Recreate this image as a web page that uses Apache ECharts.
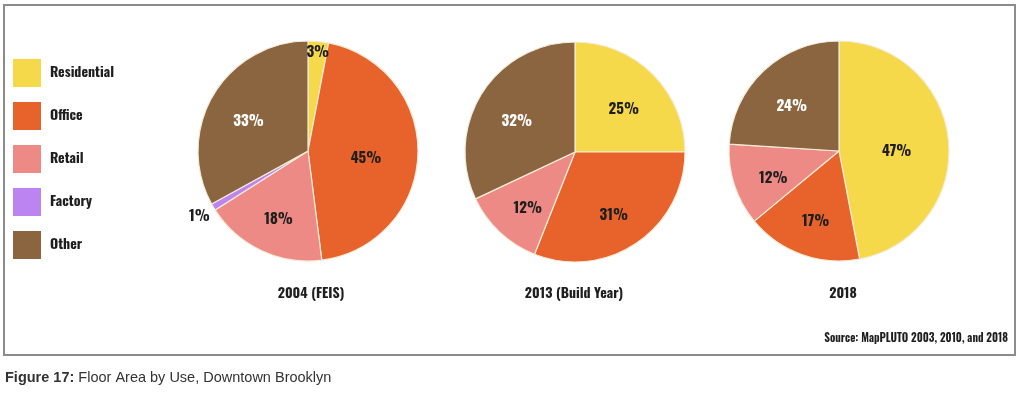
<!DOCTYPE html>
<html>
<head>
<meta charset="utf-8">
<script src="https://cdn.jsdelivr.net/npm/echarts@6/dist/echarts.min.js"></script>
<style>
html,body{margin:0;padding:0;background:#fff;}
#chart{width:1024px;height:393px;}
</style>
</head>
<body>
<div id="chart"></div>
<script>
// ---- data ----
const categories = ['Residential', 'Office', 'Retail', 'Factory', 'Other'];
const pieTitles = ['2004 (FEIS)', '2013 (Build Year)', '2018'];
const share2004 = [3, 45, 18, 1, 33];
const share2013 = [25, 31, 12, 0, 32];
const share2018 = [47, 17, 12, 0, 24];
const sourceText = 'Source: MapPLUTO 2003, 2010, and 2018';
const captionBold = 'Figure 17:';
const captionText = ' Floor Area by Use, Downtown Brooklyn';

// ---- styles ----
const colors = {
  Residential: '#F6D94B',
  Office: '#E8632B',
  Retail: '#EE8A85',
  Factory: '#BC84F0',
  Other: '#8A653F'
};
const NARROW = 'Oswald, "Roboto Condensed", "DejaVu Sans Condensed", sans-serif';
const R = 110;
const centers = [[308, 151], [575, 152], [839, 151]];
const titleX = [311, 574, 843];
const allShares = [share2004, share2013, share2018];

function buildData(values) {
  const out = [];
  values.forEach((v, i) => {
    if (v > 0) out.push({ name: categories[i], value: v, itemStyle: { color: colors[categories[i]] } });
  });
  return out;
}

function richFor(padTop) {
  return {
    d: { color: '#1e1e1e', fontFamily: NARROW, fontWeight: 'bold', fontSize: 15, padding: [padTop, 0, 0, 0] },
    w: { color: '#ffffff', fontFamily: NARROW, fontWeight: 'bold', fontSize: 15, padding: [padTop, 0, 0, 0] }
  };
}
function fmt(p) {
  return (p.name === 'Other' ? '{w|' : '{d|') + p.value + '%}';
}

// transparent overlay ring whose inside labels sit at the ring's mid radius
function labelRing(k, data, innerFrac, padTop, test) {
  return {
    type: 'pie',
    center: centers[k],
    radius: [R * innerFrac, R],
    startAngle: 90,
    clockwise: true,
    avoidLabelOverlap: false,
    silent: true,
    animation: false,
    itemStyle: { color: 'rgba(0,0,0,0)', borderWidth: 0 },
    label: {
      show: true, position: 'inside', rich: richFor(padTop),
      formatter: p => (p.name !== 'Factory' && test(p.value)) ? fmt(p) : ''
    },
    labelLine: { show: false },
    data: data.map(d => ({ name: d.name, value: d.value }))
  };
}

const series = [];
allShares.forEach((vals, k) => {
  const data = buildData(vals);
  series.push({
    type: 'pie',
    center: centers[k],
    radius: [0, R],
    startAngle: 90,
    clockwise: true,
    avoidLabelOverlap: false,
    silent: true,
    animation: false,
    itemStyle: { borderColor: '#F4ECD8', borderWidth: 1.2 },
    label: { show: false },
    labelLine: { show: false },
    data: data.map(d => {
      if (d.name === 'Factory') {
        return Object.assign({}, d, {
          label: { show: true, position: 'outside', formatter: '{d|{c}%}', rich: richFor(14), distanceToLabelLine: 0 },
          labelLine: { show: false, length: 4, length2: 0 }
        });
      }
      return d;
    })
  });
  series.push(labelRing(k, data, 0, 12, v => v >= 40));
  series.push(labelRing(k, data, 0.2, 12, v => v >= 5 && v < 40));
  series.push(labelRing(k, data, 0.84, 10, v => v < 5));
});

const titles = pieTitles.map((t, k) => ({
  text: t,
  left: titleX[k],
  top: 287,
  textAlign: 'center',
  padding: 0,
  textStyle: { fontFamily: NARROW, fontWeight: 'bold', fontSize: 14, color: '#1e1e1e' }
}));

const option = {
  backgroundColor: '#ffffff',
  animation: false,
  title: titles,
  legend: {
    orient: 'vertical',
    left: 13,
    top: 59,
    padding: 0,
    itemWidth: 28,
    itemHeight: 28,
    itemGap: 15,
    icon: 'rect',
    selectedMode: false,
    textStyle: { fontFamily: NARROW, fontWeight: 'bold', fontSize: 14, color: '#1e1e1e', padding: [3, 0, 0, 4] },
    data: categories.map(c => ({ name: c, itemStyle: { color: colors[c], borderWidth: 0 } }))
  },
  graphic: [
    {
      type: 'rect',
      shape: { x: 4, y: 5, width: 1011, height: 350 },
      style: { fill: 'none', stroke: '#8c8c8c', lineWidth: 2 },
      silent: true
    },
    {
      type: 'text',
      right: 1024 - 1008,
      top: 333,
      style: { text: sourceText, font: 'bold 11px ' + NARROW, fill: '#1e1e1e' }
    },
    {
      type: 'text',
      left: 5,
      top: 370,
      style: {
        text: '{b|' + captionBold + '}{r|' + captionText + '}',
        rich: {
          b: { fontFamily: '"Liberation Sans", Arial, sans-serif', fontWeight: 'bold', fontSize: 14.5, fill: '#333' },
          r: { fontFamily: '"Liberation Sans", Arial, sans-serif', fontSize: 14.5, fill: '#333' }
        }
      }
    }
  ],
  series: series
};

const chart = echarts.init(document.getElementById('chart'), null, { renderer: 'canvas' });
chart.setOption(option);
</script>
</body>
</html>
